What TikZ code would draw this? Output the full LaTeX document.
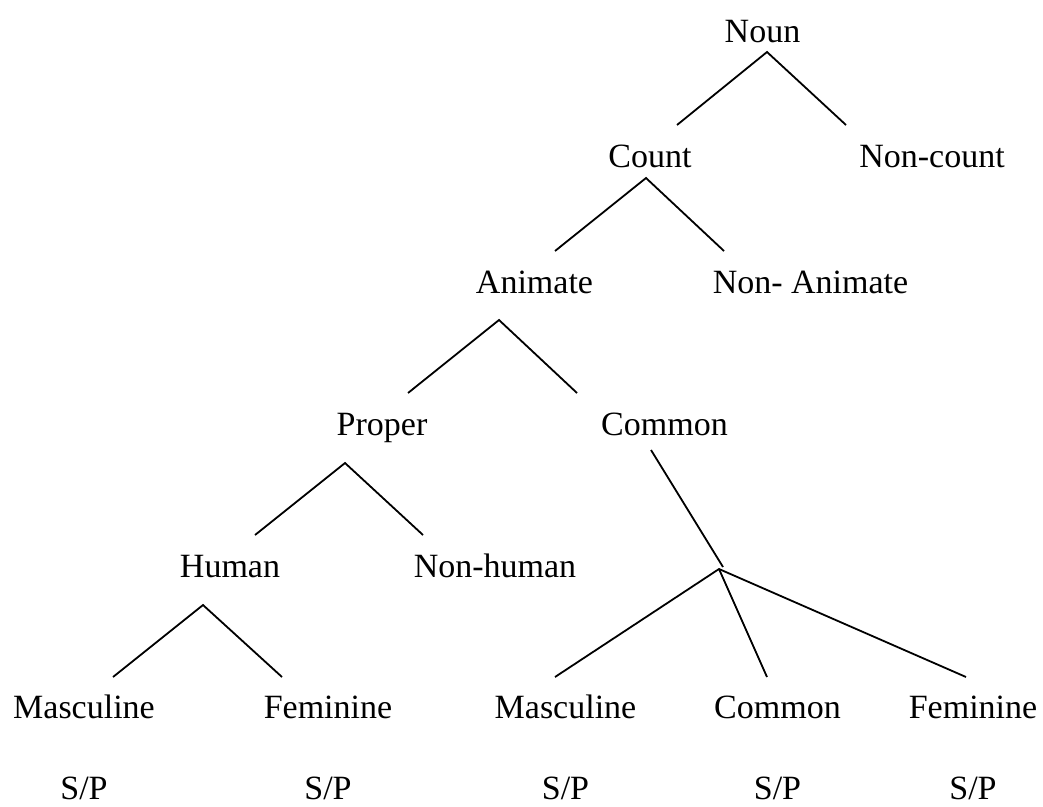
\documentclass[tikz,border=0pt]{standalone}
\usepackage{fontspec}
\setmainfont{Liberation Serif}
\begin{document}
\begin{tikzpicture}[x=1pt,y=-1pt,
  lbl/.style={anchor=base,inner sep=0pt,font=\fontsize{34}{40}\selectfont},
  edge/.style={line width=1.8pt,line cap=butt}]
\useasboundingbox (0,0) rectangle (1043,806);

% category labels, placed by their baselines
\node[lbl] (noun)       at (762.5,42)  {Noun};
\node[lbl] (count)      at (650,167)   {Count};
\node[lbl] (noncount)   at (932,167)   {Non-count};
\node[lbl] (animate)    at (534.5,293) {Animate};
\node[lbl] (nonanimate) at (810.5,293) {Non- Animate};
\node[lbl] (proper)     at (382,435)   {Proper};
\node[lbl] (common)     at (664.5,435) {Common};
\node[lbl] (human)      at (230,577)   {Human};
\node[lbl] (nonhuman)   at (495,577)   {Non-human};
\node[lbl] (mascA)      at (84,718)    {Masculine};
\node[lbl] (femA)       at (328,718)   {Feminine};
\node[lbl] (mascB)      at (565.5,718) {Masculine};
\node[lbl] (commonB)    at (777.5,718) {Common};
\node[lbl] (femB)       at (973,718)   {Feminine};
\node[lbl] (spA) at (84,799)    {S/P};
\node[lbl] (spB) at (328,799)   {S/P};
\node[lbl] (spC) at (565.5,799) {S/P};
\node[lbl] (spD) at (777.5,799) {S/P};
\node[lbl] (spE) at (973,799)   {S/P};

% branching point below Common
\coordinate (j) at (719,569);

% branches
\draw[edge] ([shift={(27,-42)}]count.base) -- ([shift={(4.5,10)}]noun.base) -- ([shift={(-86,-42)}]noncount.base);
\draw[edge] ([shift={(20.5,-42)}]animate.base) -- ([shift={(-4,11)}]count.base) -- ([shift={(-86.5,-42)}]nonanimate.base);
\draw[edge] ([shift={(26,-42)}]proper.base) -- ([shift={(-35.5,27)}]animate.base) -- ([shift={(-87.5,-42)}]common.base);
\draw[edge] ([shift={(25,-42)}]human.base) -- ([shift={(-37,28)}]proper.base) -- ([shift={(-72,-42)}]nonhuman.base);
\draw[edge] ([shift={(29,-41)}]mascA.base) -- ([shift={(-27,28)}]human.base) -- ([shift={(-46,-41)}]femA.base);
\draw[edge] ([shift={(-13.5,15)}]common.base) -- ([shift={(4,-2)}]j);
\draw[edge] ([shift={(-10.5,-41)}]mascB.base) -- (j) -- ([shift={(-7,-41)}]femB.base);
\draw[edge] (j) -- ([shift={(-10.5,-41)}]commonB.base);
\end{tikzpicture}
\end{document}
